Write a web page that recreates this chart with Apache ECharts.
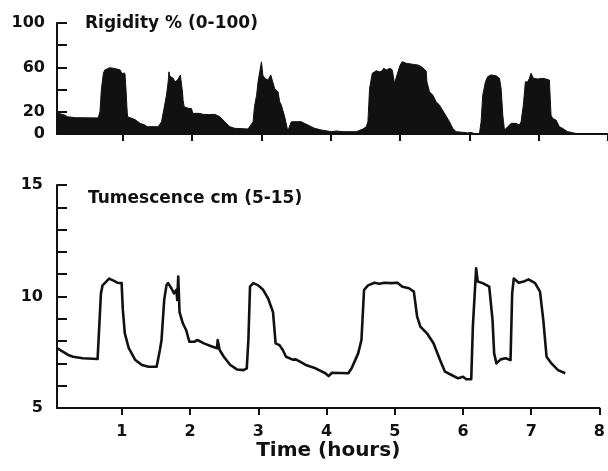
<!DOCTYPE html>
<html>
<head>
<meta charset="utf-8">
<script src="https://cdn.jsdelivr.net/npm/echarts@6/dist/echarts.min.js"></script>
<style>
  html, body { margin: 0; padding: 0; background: #fff; }
  #chart { width: 608px; height: 471px; }
</style>
</head>
<body>
<div id="chart"></div>
<script>
// ---- Data ----
const rigidityTime = [0.05, 0.07, 0.165, 0.2, 0.31, 0.645, 0.67, 0.69, 0.72, 0.74, 0.81, 0.885, 0.96, 0.985, 1.006, 1.03, 1.045, 1.058, 1.068, 1.174, 1.25, 1.318, 1.35, 1.51, 1.558, 1.6, 1.63, 1.654, 1.665, 1.678, 1.70, 1.73, 1.75, 1.79, 1.83, 1.845, 1.86, 1.87, 1.885, 1.9, 1.942, 1.99, 2.01, 2.038, 2.1, 2.159, 2.25, 2.326, 2.399, 2.47, 2.543, 2.615, 2.807, 2.879, 2.9, 2.93, 2.951, 2.975, 3.0, 3.02, 3.047, 3.095, 3.134, 3.16, 3.191, 3.215, 3.239, 3.263, 3.287, 3.335, 3.38, 3.4, 3.431, 3.5, 3.575, 3.62, 3.671, 3.72, 3.768, 3.864, 4.008, 4.08, 4.176, 4.368, 4.464, 4.512, 4.536, 4.56, 4.599, 4.618, 4.656, 4.68, 4.704, 4.743, 4.762, 4.8, 4.825, 4.858, 4.887, 4.92, 4.945, 4.969, 5.002, 5.031, 5.089, 5.185, 5.257, 5.305, 5.377, 5.387, 5.425, 5.473, 5.521, 5.569, 5.641, 5.713, 5.761, 5.809, 5.905, 5.977, 6.025, 6.073, 6.145, 6.169, 6.193, 6.232, 6.265, 6.313, 6.386, 6.434, 6.458, 6.482, 6.506, 6.554, 6.602, 6.674, 6.722, 6.746, 6.779, 6.808, 6.842, 6.866, 6.89, 6.923, 6.986, 7.058, 7.106, 7.154, 7.178, 7.202, 7.25, 7.298, 7.346, 7.418, 7.49, 7.562];
const rigidityPct = [19, 19.5, 17, 15.6, 14.7, 14.5, 20, 40, 55, 57.7, 59.7, 59, 57.7, 54.7, 56, 54.7, 41, 25, 15.6, 13, 9.6, 8.1, 6.6, 6.6, 11, 25, 35, 47, 56, 52, 51.7, 50, 47, 48.6, 53.2, 51.7, 38, 30, 24.6, 24.6, 23.1, 23, 18.6, 17.7, 18.6, 17.7, 17.5, 17.7, 15.6, 11.1, 6.6, 5.1, 4.5, 11.1, 25, 35, 47, 56, 65, 53, 50.2, 48.6, 53.2, 51.7, 41, 39.6, 38, 29, 26, 15.6, 2.7, 2.7, 11, 11.1, 11.1, 9.6, 8.1, 6.6, 5.1, 3.6, 2.1, 2.7, 2.1, 2.1, 4.5, 6.6, 11, 41, 54.7, 56, 57, 57.7, 56, 57, 59.2, 57.7, 59.2, 59.2, 57.7, 45.6, 44, 56, 62.2, 65.2, 63.7, 62.8, 62.2, 60.7, 56.8, 47, 38, 35, 29, 26, 18.6, 11, 5, 2.1, 1.5, 1, 1.5, 0.3, 0.3, 11, 35, 47, 51.7, 53.2, 52.5, 50.2, 41, 17, 3.6, 6.6, 9.6, 9.6, 8.1, 11, 26, 47, 47, 50.2, 54.7, 50.2, 49.5, 50.2, 49.5, 48.6, 17, 14, 12.6, 6.6, 5, 2.1, 1.2, 0];

const tumescenceTime = [0.05, 0.141, 0.213, 0.285, 0.429, 0.645, 0.67, 0.694, 0.718, 0.814, 0.886, 0.934, 0.997, 1.015, 1.044, 1.102, 1.198, 1.294, 1.39, 1.51, 1.558, 1.582, 1.621, 1.654, 1.678, 1.726, 1.765, 1.8, 1.812, 1.827, 1.846, 1.894, 1.942, 1.99, 2.06, 2.108, 2.204, 2.3, 2.396, 2.405, 2.434, 2.495, 2.59, 2.687, 2.783, 2.831, 2.855, 2.879, 2.927, 2.999, 3.071, 3.143, 3.216, 3.254, 3.311, 3.359, 3.407, 3.504, 3.551, 3.695, 3.839, 3.983, 4.031, 4.079, 4.32, 4.368, 4.464, 4.512, 4.55, 4.608, 4.704, 4.776, 4.848, 4.944, 5.04, 5.112, 5.208, 5.28, 5.328, 5.376, 5.472, 5.568, 5.664, 5.736, 5.833, 5.929, 6.001, 6.049, 6.121, 6.145, 6.193, 6.217, 6.289, 6.385, 6.433, 6.457, 6.49, 6.553, 6.625, 6.697, 6.721, 6.745, 6.817, 6.889, 6.961, 7.057, 7.129, 7.177, 7.225, 7.297, 7.393, 7.499];
const tumescenceCm = [7.68, 7.52, 7.38, 7.3, 7.23, 7.2, 7.15, 10.14, 10.5, 10.8, 10.7, 10.62, 10.6, 9.4, 8.35, 7.68, 7.15, 6.93, 6.85, 6.85, 7.6, 8.05, 9.84, 10.5, 10.6, 10.37, 10.14, 10.3, 9.84, 10.9, 9.3, 8.8, 8.5, 7.97, 7.97, 8.05, 7.9, 7.78, 7.68, 8.05, 7.6, 7.3, 6.93, 6.73, 6.7, 6.78, 8.05, 10.44, 10.6, 10.5, 10.3, 9.92, 9.3, 7.9, 7.82, 7.6, 7.3, 7.17, 7.18, 6.93, 6.78, 6.56, 6.43, 6.58, 6.56, 6.78, 7.45, 8.05, 10.29, 10.5, 10.62, 10.57, 10.62, 10.6, 10.62, 10.44, 10.37, 10.22, 9.1, 8.65, 8.35, 7.9, 7.15, 6.63, 6.48, 6.33, 6.4, 6.29, 6.29, 8.65, 11.26, 10.67, 10.6, 10.44, 8.95, 7.45, 7.0, 7.18, 7.23, 7.15, 10.14, 10.81, 10.62, 10.67, 10.77, 10.6, 10.22, 8.95, 7.3, 7.0, 6.7, 6.56];

const hourTicks = [1, 2, 3, 4, 5, 6, 7, 8];
const rigidityLabels = [0, 20, 60, 100];
const tumescenceLabels = [5, 10, 15];
const rigidityTitle = 'Rigidity % (0-100)';
const tumescenceTitle = 'Tumescence cm (5-15)';
const xAxisName = 'Time (hours)';

// ---- Chart ----
const FONT = 'DejaVu Sans';
const INK = '#111';

function pairs(xs, ys) { return xs.map((x, i) => [x, ys[i]]); }

const chart = echarts.init(document.getElementById('chart'), null, { renderer: 'canvas' });

const baseX = {
  type: 'value', min: 0.05, max: 8,
  axisLine: { show: true, onZero: false, lineStyle: { color: INK, width: 2 } },
  axisTick: { show: true, inside: false, length: 7, lineStyle: { color: INK, width: 2 }, customValues: hourTicks },
  splitLine: { show: false }
};

const option = {
  animation: false,
  backgroundColor: '#ffffff',
  title: [
    { text: rigidityTitle, left: 85, top: 15, padding: 0,
      textStyle: { fontFamily: FONT, fontWeight: 'bold', fontSize: 17, color: INK } },
    { text: tumescenceTitle, left: 88, top: 190, padding: 0,
      textStyle: { fontFamily: FONT, fontWeight: 'bold', fontSize: 17, color: INK } }
  ],
  grid: [
    { left: 57, top: 23, width: 552, height: 111 },
    { left: 57, top: 185, width: 552, height: 223 }
  ],
  xAxis: [
    Object.assign({}, baseX, { gridIndex: 0, axisLabel: { show: false } }),
    Object.assign({}, baseX, {
      gridIndex: 1,
      axisLabel: { show: true, customValues: hourTicks, margin: 16,
        fontFamily: FONT, fontWeight: 'bold', fontSize: 16, color: INK },
      name: xAxisName, nameLocation: 'middle', nameGap: 32,
      nameTextStyle: { fontFamily: FONT, fontWeight: 'bold', fontSize: 20, color: INK }
    })
  ],
  yAxis: [
    { type: 'value', gridIndex: 0, min: 0, max: 100, interval: 20,
      axisLine: { show: true, lineStyle: { color: INK, width: 2 } },
      axisTick: { show: true, inside: true, length: 10, lineStyle: { color: INK, width: 2 } },
      axisLabel: { show: true, margin: 12, fontFamily: FONT, fontWeight: 'bold', fontSize: 16, color: INK,
        formatter: v => rigidityLabels.indexOf(v) >= 0 ? String(v) : '' },
      splitLine: { show: false } },
    { type: 'value', gridIndex: 1, min: 5, max: 15, interval: 1,
      axisLine: { show: true, lineStyle: { color: INK, width: 2 } },
      axisTick: { show: true, inside: true, length: 10, lineStyle: { color: INK, width: 2 } },
      axisLabel: { show: true, margin: 14, fontFamily: FONT, fontWeight: 'bold', fontSize: 16, color: INK,
        formatter: v => tumescenceLabels.indexOf(v) >= 0 ? String(v) : '' },
      splitLine: { show: false } }
  ],
  series: [
    { type: 'line', xAxisIndex: 0, yAxisIndex: 0, data: pairs(rigidityTime, rigidityPct),
      showSymbol: false, symbol: 'none',
      lineStyle: { color: INK, width: 1 },
      areaStyle: { color: INK, opacity: 1 } },
    { type: 'line', xAxisIndex: 1, yAxisIndex: 1, data: pairs(tumescenceTime, tumescenceCm),
      showSymbol: false, symbol: 'none',
      lineStyle: { color: INK, width: 2.6, join: 'round' } }
  ]
};

chart.setOption(option);
</script>
</body>
</html>
